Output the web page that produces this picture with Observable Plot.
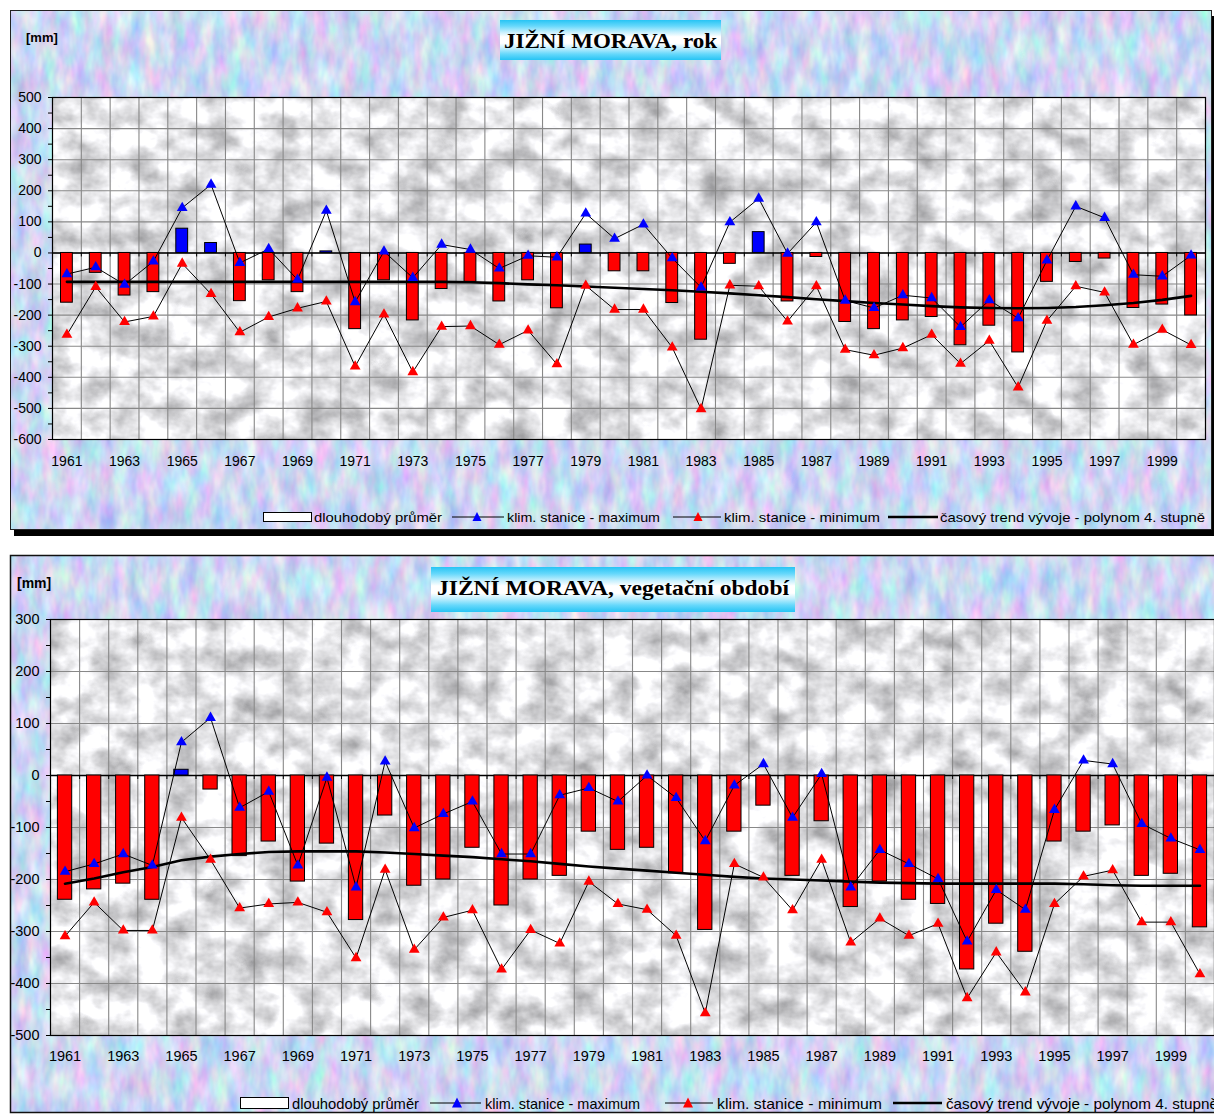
<!DOCTYPE html>
<html><head><meta charset="utf-8">
<script src="https://cdn.jsdelivr.net/npm/d3@7"></script>
<script src="https://cdn.jsdelivr.net/npm/@observablehq/plot@0.6"></script>
<style>
body{margin:0;width:1214px;height:1115px;overflow:hidden;position:relative;background:#fff;font-family:Arial,"Liberation Sans",sans-serif;}
#bg{position:absolute;left:0;top:0;}
.plotwrap{position:absolute;left:0;}
</style></head>
<body>
<svg id="bg" width="1214" height="1115" xmlns="http://www.w3.org/2000/svg">
  <defs>
    <filter id="pastel" x="0" y="0" width="100%" height="100%" color-interpolation-filters="sRGB">
      <feTurbulence type="fractalNoise" baseFrequency="0.07 0.03" numOctaves="3" seed="7"/>
      <feColorMatrix type="matrix" values="0.5 0 0 0 0.55  0 0.4 0 0 0.64  0 0 0.15 0 0.875  0 0 0 0 1"/>
    </filter>
    <filter id="marble" x="0" y="0" width="100%" height="100%" color-interpolation-filters="sRGB">
      <feTurbulence type="fractalNoise" baseFrequency="0.03 0.04" numOctaves="4" seed="3"/>
      <feColorMatrix type="matrix" values="-0.7 0 0 0 1.25  -0.7 0 0 0 1.25  -0.7 0 0 0 1.26  0 0 0 0 1"/>
    </filter>
    <linearGradient id="tg" x1="0" y1="0" x2="0" y2="1">
      <stop offset="0" stop-color="#27c4f4"/>
      <stop offset="0.15" stop-color="#66d8fb"/>
      <stop offset="0.3" stop-color="#c4effd"/>
      <stop offset="0.42" stop-color="#ffffff"/>
      <stop offset="0.58" stop-color="#ffffff"/>
      <stop offset="0.7" stop-color="#c4effd"/>
      <stop offset="0.85" stop-color="#66d8fb"/>
      <stop offset="1" stop-color="#27c4f4"/>
    </linearGradient>
  </defs>
  <!-- panel 1 -->
  <rect x="14" y="16" width="1202" height="520" fill="#000"/>
  <rect x="10" y="10" width="1202" height="520" fill="#cdd" filter="url(#pastel)"/>
  <rect x="10.5" y="10.5" width="1201" height="519" fill="none" stroke="#222" stroke-width="1"/>
  <rect x="52" y="97" width="1153" height="342" filter="url(#marble)"/>
  <!-- panel 2 -->
  <rect x="10" y="555" width="1230" height="558" fill="#cdd" filter="url(#pastel)"/>
  <rect x="10.5" y="555.5" width="1230" height="557" fill="none" stroke="#111" stroke-width="1.5"/>
  <rect x="50" y="619" width="1164" height="416" filter="url(#marble)"/>

  <!-- titles -->
  <rect x="500" y="20" width="221" height="40" fill="url(#tg)"/>
  <text x="610.5" y="48" text-anchor="middle" font-family="'Liberation Serif','Times New Roman',serif" font-weight="bold" font-size="21" textLength="213" lengthAdjust="spacingAndGlyphs">JIŽNÍ MORAVA, rok</text>
  <rect x="431" y="567" width="364" height="45" fill="url(#tg)"/>
  <text x="613" y="595" text-anchor="middle" font-family="'Liberation Serif','Times New Roman',serif" font-weight="bold" font-size="22" textLength="352" lengthAdjust="spacingAndGlyphs">JIŽNÍ MORAVA, vegetační období</text>

  <text x="26" y="42" font-weight="bold" font-size="13" font-family="Arial,'Liberation Sans',sans-serif">[mm]</text>
  <text x="17" y="588" font-weight="bold" font-size="14" font-family="Arial,'Liberation Sans',sans-serif">[mm]</text>

  <!-- legend 1 -->
  <g font-family="Arial,'Liberation Sans',sans-serif" font-size="13">
    <rect x="263.5" y="512.5" width="48" height="9" fill="#fff" stroke="#000"/>
    <text x="314" y="521.5" textLength="128" lengthAdjust="spacingAndGlyphs">dlouhodobý průměr</text>
    <line x1="452" x2="504" y1="517" y2="517" stroke="#000"/>
    <polygon points="477,512 481.5,521 472.5,521" fill="#0000ff"/>
    <text x="507" y="521.5" textLength="153" lengthAdjust="spacingAndGlyphs">klim. stanice - maximum</text>
    <line x1="673" x2="721" y1="517" y2="517" stroke="#000"/>
    <polygon points="698,512 702.5,521 693.5,521" fill="#ff0000"/>
    <text x="724" y="521.5" textLength="156" lengthAdjust="spacingAndGlyphs">klim. stanice - minimum</text>
    <line x1="888" x2="938" y1="517" y2="517" stroke="#000" stroke-width="2.5"/>
    <text x="940" y="521.5" textLength="265" lengthAdjust="spacingAndGlyphs">časový trend vývoje - polynom 4. stupně</text>
  </g>
  <!-- legend 2 -->
  <g font-family="Arial,'Liberation Sans',sans-serif" font-size="15">
    <rect x="240.5" y="1097.5" width="48" height="11" fill="#fff" stroke="#000"/>
    <text x="292" y="1108.5" textLength="127" lengthAdjust="spacingAndGlyphs">dlouhodobý průměr</text>
    <line x1="430" x2="481" y1="1103" y2="1103" stroke="#000"/>
    <polygon points="457,1097.5 462,1107.5 452,1107.5" fill="#0000ff"/>
    <text x="485" y="1108.5" textLength="155" lengthAdjust="spacingAndGlyphs">klim. stanice - maximum</text>
    <line x1="665" x2="713" y1="1103" y2="1103" stroke="#000"/>
    <polygon points="688,1097.5 693,1107.5 683,1107.5" fill="#ff0000"/>
    <text x="717" y="1108.5" textLength="165" lengthAdjust="spacingAndGlyphs">klim. stanice - minimum</text>
    <line x1="893" x2="942" y1="1103" y2="1103" stroke="#000" stroke-width="2.5"/>
    <text x="946" y="1108.5" textLength="272" lengthAdjust="spacingAndGlyphs">časový trend vývoje - polynom 4. stupně</text>
  </g>
</svg>
<div id="c1" class="plotwrap" style="top:0px"></div>
<div id="c2" class="plotwrap" style="top:540px"></div>
<script>
// ---------- data ----------
const years = [1961,1962,1963,1964,1965,1966,1967,1968,1969,1970,
               1971,1972,1973,1974,1975,1976,1977,1978,1979,1980,
               1981,1982,1983,1984,1985,1986,1987,1988,1989,1990,
               1991,1992,1993,1994,1995,1996,1997,1998,1999,2000];
const xTickLabels = [1961,1963,1965,1967,1969,1971,1973,1975,1977,1979,
                     1981,1983,1985,1987,1989,1991,1993,1995,1997,1999];

// JIŽNÍ MORAVA, rok
const rokRegion = [-160,-64,-137,-126,78,32,-155,-88,-126,5,
                   -245,-88,-217,-116,-93,-156,-88,-178,27,-59,
                   -59,-161,-279,-35,67,-156,-13,-222,-245,-217,
                   -206,-297,-234,-320,-93,-29,-18,-177,-166,-201];
const rokMax = [-68,-46,-102,-27,145,220,-32,13,-86,136,
                -158,5,-80,27,11,-50,-9,-14,127,46,
                92,-17,-111,99,175,-2,99,-153,-177,-136,
                -145,-238,-152,-210,-24,150,113,-70,-75,-8];
const rokMin = [-263,-109,-222,-204,-34,-132,-255,-206,-178,-156,
                -365,-198,-383,-237,-235,-295,-249,-358,-105,-182,
                -182,-304,-502,-104,-107,-220,-107,-311,-329,-306,
                -263,-356,-282,-432,-218,-107,-127,-295,-247,-296];
const rokTrend = [-93,-93,-93,-93,-93,-93,-93,-93,-93,-93,
                  -93,-93,-93,-93,-94,-97,-101,-104,-108,-112,
                  -116,-120,-125,-130,-136,-142,-149,-155,-161,-166,
                  -171,-175,-177,-178,-177,-174,-168,-161,-151,-138];
const rokYTicks = [500,450,400,350,300,250,200,150,100,50,0,-50,-100,-150,-200,-250,-300,-350,-400,-450,-500,-550,-600];

// JIŽNÍ MORAVA, vegetační období
const vegRegion = [-239,-219,-208,-239,11,-27,-155,-127,-204,-131,
                   -278,-77,-212,-200,-139,-250,-200,-193,-108,-143,
                   -139,-188,-297,-108,-58,-193,-88,-253,-204,-239,
                   -247,-373,-285,-339,-127,-108,-96,-193,-189,-292];
const vegMax = [-185,-170,-151,-173,64,111,-62,-31,-173,-4,
                -215,27,-101,-74,-50,-151,-151,-38,-24,-50,
                0,-43,-126,-19,22,-81,3,-215,-143,-170,
                -199,-319,-220,-258,-66,29,22,-93,-121,-143];
const vegMin = [-309,-244,-298,-298,-81,-162,-255,-247,-244,-263,
                -351,-181,-335,-273,-259,-373,-297,-323,-204,-247,
                -258,-308,-457,-170,-196,-259,-162,-321,-275,-308,
                -285,-428,-340,-417,-247,-194,-182,-282,-282,-382];
const vegTrend = [-208,-198,-186,-176,-163,-156,-151,-147,-146,-146,
                  -146,-148,-151,-154,-157,-161,-165,-170,-175,-179,
                  -183,-187,-191,-195,-198,-200,-202,-204,-206,-207,
                  -208,-208,-208,-208,-208,-209,-211,-212,-212,-212];
const vegYTicks = [300,250,200,150,100,50,0,-50,-100,-150,-200,-250,-300,-350,-400,-450,-500];

// ---------- chart ----------
function chart(o) {
  const data = years.map((year, i) => ({year, bar: o.bars[i], max: o.maxs[i], min: o.mins[i], trend: o.trend[i]}));
  const major = o.yTicks.filter(d => d % 100 === 0);
  return Plot.plot({
    width: 1214, height: o.height,
    marginLeft: o.ml, marginRight: o.mr, marginTop: o.mt, marginBottom: o.mb,
    style: {background: "transparent", fontFamily: "Arial, 'Liberation Sans', sans-serif", fontSize: o.fs + "px", color: "black", overflow: "visible"},
    x: {domain: [1960.5, 2000.5], ticks: xTickLabels, tickFormat: d => String(d), tickSize: 0, tickPadding: o.xPad, label: null},
    y: {domain: o.yDomain, ticks: o.yTicks, tickFormat: d => d % 100 === 0 ? String(d) : "", tickSize: 4, tickPadding: 7, label: null},
    marks: [
      Plot.ruleY(major, {stroke: "#888", strokeWidth: 1.1}),
      Plot.ruleX(years, {x: d => d + 0.5, stroke: "#888", strokeWidth: 1.1}),
      Plot.ruleY([0], {stroke: "black", strokeWidth: 1.4}),
      Plot.ruleX(years, {x: d => d + 0.5, y1: 0, y2: 0, insetBottom: -4, stroke: "black"}),
      Plot.rectY(data, {filter: d => d.bar < 0, x1: d => d.year - 0.5, x2: d => d.year + 0.5, y1: 0, y2: "bar",
        fill: "#ff0000", stroke: "black", strokeWidth: 1, insetLeft: o.inset, insetRight: o.inset}),
      Plot.rectY(data, {filter: d => d.bar >= 0, x1: d => d.year - 0.5, x2: d => d.year + 0.5, y1: 0, y2: "bar",
        fill: "#0000ff", stroke: "black", strokeWidth: 1, insetLeft: o.inset, insetRight: o.inset}),
      Plot.line(data, {x: "year", y: "trend", stroke: "black", strokeWidth: 2.6}),
      Plot.line(data, {x: "year", y: "min", stroke: "black", strokeWidth: 1}),
      Plot.line(data, {x: "year", y: "max", stroke: "black", strokeWidth: 1}),
      Plot.dot(data, {x: "year", y: "min", symbol: "triangle", r: 4, fill: "#ff0000"}),
      Plot.dot(data, {x: "year", y: "max", symbol: "triangle", r: 4, fill: "#0000ff"}),
      Plot.frame({stroke: "black", strokeWidth: 1.2})
    ]
  });
}

document.getElementById("c1").append(chart({
  bars: rokRegion, maxs: rokMax, mins: rokMin, trend: rokTrend,
  yDomain: [-600, 500], yTicks: rokYTicks,
  height: 480, ml: 52, mr: 9, mt: 97, mb: 41, inset: 8.5, xPad: 17, fs: 14
}));
document.getElementById("c2").append(chart({
  bars: vegRegion, maxs: vegMax, mins: vegMin, trend: vegTrend,
  yDomain: [-500, 300], yTicks: vegYTicks,
  height: 540, ml: 50, mr: 0, mt: 79, mb: 45, inset: 7.4, xPad: 15, fs: 14.5
}));
</script>
</body></html>
